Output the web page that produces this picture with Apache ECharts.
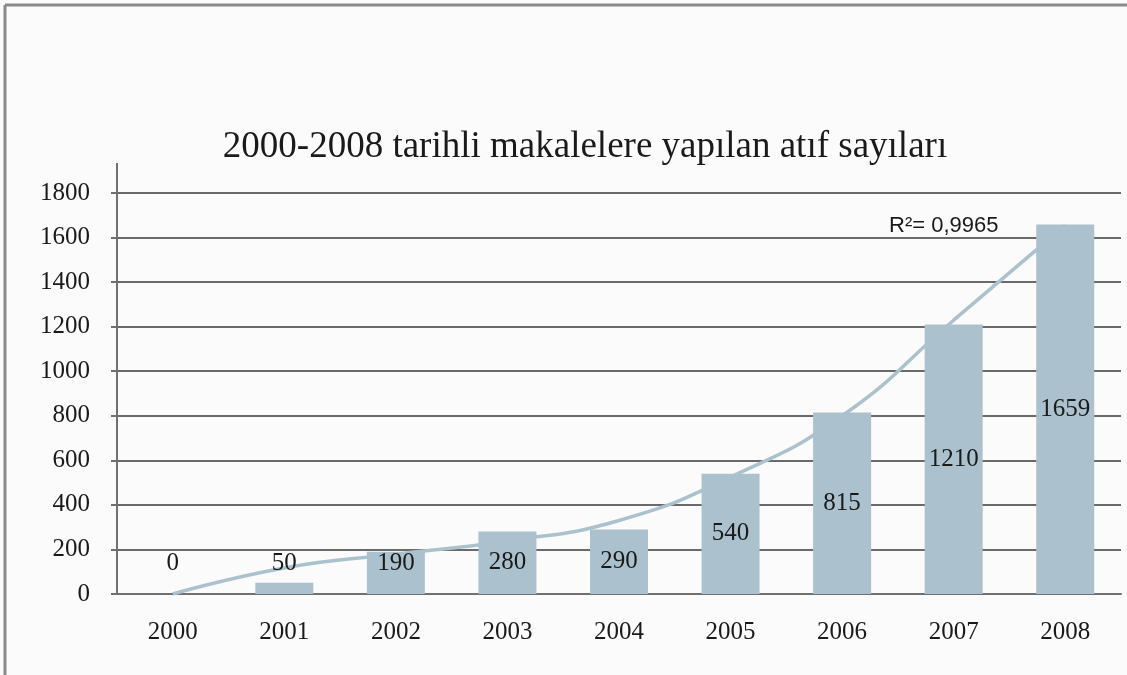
<!DOCTYPE html>
<html>
<head>
<meta charset="utf-8">
<script src="https://cdn.jsdelivr.net/npm/echarts@6/dist/echarts.min.js"></script>
<style>
  html, body { margin: 0; padding: 0; background: #fafbfa; }
  #main { width: 1127px; height: 675px; }
</style>
</head>
<body>
<div id="main"></div>
<script>
var chartDom = document.getElementById('main');
var myChart = echarts.init(chartDom);
var option;

// yillar ve atif sayilari
var years = ['2000', '2001', '2002', '2003', '2004', '2005', '2006', '2007', '2008'];
var citations = [0, 50, 190, 280, 290, 540, 815, 1210, 1659];
// trend egrisi (resimden okunan yaklasik degerler)
var trend = [0, 117, 179, 238, 330, 525, 800, 1229, 1655];
var yTicks = [0, 200, 400, 600, 800, 1000, 1200, 1400, 1600, 1800];

var barColor = '#abc2ce';
var serif = '"Liberation Serif", "DejaVu Serif", serif';

var barData = citations.map(function (v) {
    if (v < 200) {
        return { value: v, label: { position: 'insideBottom', distance: 18 } };
    }
    return v;
});

option = {
    backgroundColor: '#fafbfa',
    title: [{
        text: '2000-2008 tarihli makalelere yapılan atıf sayıları',
        left: 580,
        top: 124,
        textAlign: 'center',
        textStyle: {
            fontFamily: serif,
            fontSize: 37,
            fontWeight: 'normal',
            color: '#1a1a1a'
        }
    }, {
        text: 'R²= 0,9965',
        left: 884,
        top: 210,
        textStyle: {
            fontFamily: '"Liberation Sans", Arial, sans-serif',
            fontSize: 22,
            fontWeight: 'normal',
            color: '#1a1a1a'
        }
    }],
    grid: {
        left: 117,
        right: 6,
        top: 193,
        bottom: 81
    },
    xAxis: {
        type: 'category',
        data: years,
        axisLine: { lineStyle: { color: '#707070', width: 2 } },
        axisTick: { show: false },
        axisLabel: {
            margin: 26,
            fontFamily: serif,
            fontSize: 25,
            color: '#1a1a1a'
        }
    },
    yAxis: {
        type: 'value',
        min: 0,
        max: 1800,
        interval: 200,
        axisLine: { show: true, lineStyle: { color: '#707070', width: 2 } },
        axisTick: { show: true, length: 6, lineStyle: { color: '#707070', width: 2 } },
        axisLabel: {
            margin: 27,
            fontFamily: serif,
            fontSize: 25,
            color: '#1a1a1a',
            formatter: function (v) { return yTicks.indexOf(v) >= 0 ? String(v) : ''; }
        },
        splitLine: { lineStyle: { color: '#6a6a6a', width: 2 } }
    },
    graphic: [{
        type: 'line',
        shape: { x1: 117, y1: 163, x2: 117, y2: 194 },
        style: { stroke: '#707070', lineWidth: 2 }
    }, {
        type: 'line',
        shape: { x1: 5, y1: 5, x2: 1127, y2: 5 },
        style: { stroke: '#8a8a8a', lineWidth: 3 }
    }, {
        type: 'line',
        shape: { x1: 5, y1: 5, x2: 5, y2: 675 },
        style: { stroke: '#8a8a8a', lineWidth: 3 }
    }],
    series: [{
        type: 'line',
        data: trend,
        smooth: true,
        symbol: 'none',
        z: 1,
        lineStyle: { color: barColor, width: 3.5 }
    }, {
        type: 'bar',
        data: barData,
        barWidth: 58,
        z: 3,
        itemStyle: { color: barColor },
        label: {
            show: true,
            position: 'inside',
            fontFamily: serif,
            fontSize: 25,
            color: '#1a1a1a'
        }
    }]
};

option && myChart.setOption(option);
</script>
</body>
</html>
